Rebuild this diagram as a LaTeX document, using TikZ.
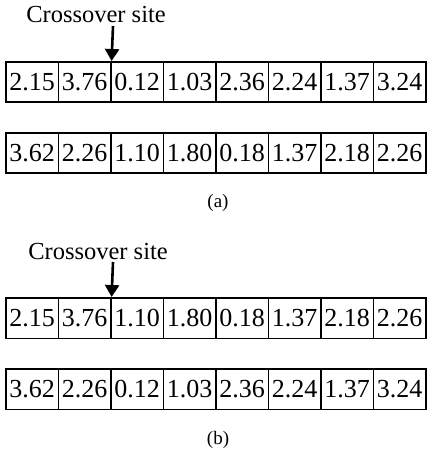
\documentclass[tikz,border=0pt]{standalone}
\usepackage{fontspec}
\setmainfont{Liberation Serif}
\usetikzlibrary{arrows.meta}
\begin{document}
\begin{tikzpicture}[x=1pt,y=1pt,
  cell/.style={draw=black, line width=1.6pt, minimum width=52.5pt, minimum height=40.5pt, inner sep=0pt, anchor=north west, font=\fontsize{26}{30}\selectfont},
  sitelabel/.style={font=\fontsize{24.5}{29}\selectfont, inner sep=0pt},
  caplabel/.style={font=\fontsize{19}{22}\selectfont, inner sep=0pt},
  siteArrow/.style={line width=2.6pt, -{Triangle[width=14pt,length=12pt]}}]
\useasboundingbox (0,0) rectangle (427,-454);
% rows
\foreach \row/\ytop/\vals in {1/-61/{2.15,3.76,0.12,1.03,2.36,2.24,1.37,3.24},
                            2/-132/{3.62,2.26,1.10,1.80,0.18,1.37,2.18,2.26},
                            3/-297/{2.15,3.76,1.10,1.80,0.18,1.37,2.18,2.26},
                            4/-368/{3.62,2.26,0.12,1.03,2.36,2.24,1.37,3.24}}{
  \foreach \v [count=\i from 0] in \vals {
    \pgfmathsetmacro{\xx}{5+52.5*\i}
    \pgfmathtruncatemacro{\ci}{\i+1}
    \node[cell] (r\row c\ci) at (\xx,\ytop) {\v};
  }
}
% labels
\node[sitelabel] (cs1) at (96,-15) {Crossover site};
\node[sitelabel] (cs2) at (98,-252) {Crossover site};
\coordinate (t1) at (113,-26);
\coordinate (t2) at (113,-262);
\draw[siteArrow] (t1) -- (r1c2.north east);
\draw[siteArrow] (t2) -- (r3c2.north east);
\node[caplabel] (capa) at (218,-203) {(a)};
\node[caplabel] (capb) at (218,-440) {(b)};
\end{tikzpicture}
\end{document}
